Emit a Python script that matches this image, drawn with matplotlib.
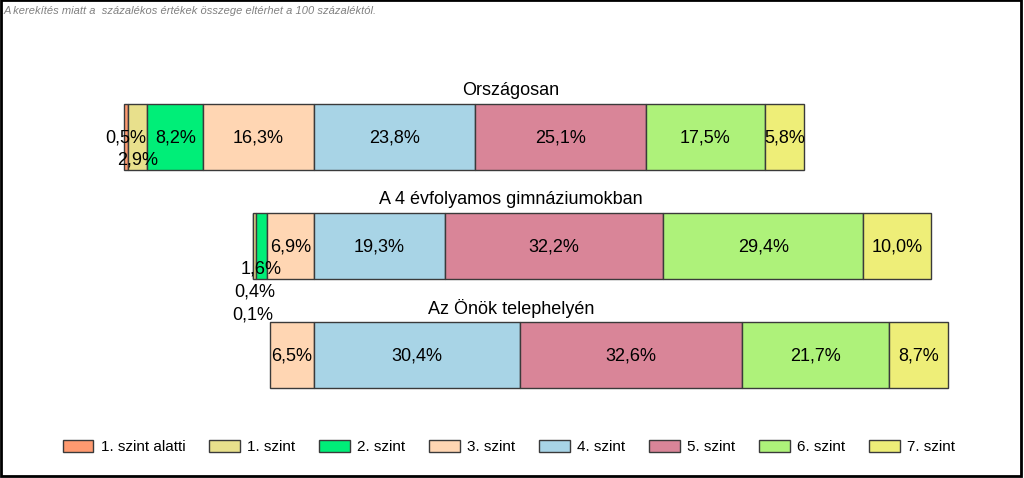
import matplotlib.pyplot as plt
from matplotlib.patches import Rectangle

plt.rcParams['font.family'] = ['Liberation Sans', 'DejaVu Sans']

# data
groups = ['Országosan', 'A 4 évfolyamos gimnáziumokban', 'Az Önök telephelyén']
levels = ['1. szint alatti', '1. szint', '2. szint', '3. szint',
          '4. szint', '5. szint', '6. szint', '7. szint']
values = [
    [0.5, 2.9, 8.2, 16.3, 23.8, 25.1, 17.5, 5.8],
    [0.1, 0.4, 1.6, 6.9, 19.3, 32.2, 29.4, 10.0],
    [0.0, 0.0, 0.0, 6.5, 30.4, 32.6, 21.7, 8.7],
]
colors = ['#ff9a70', '#e8e08c', '#00ee78', '#ffd6b3',
          '#a8d4e6', '#d98598', '#aef27a', '#eeee78']
note = 'A kerekítés miatt a  százalékos értékek összege eltérhet a 100 százaléktól.'

fig = plt.figure(figsize=(10.24, 4.78), dpi=100)
ax = fig.add_axes([0, 0, 1, 1])
ax.set_xlim(-46.2, 104.6)
ax.set_ylim(3.128, -1.257)
ax.axis('off')

bar_h = 0.6
lab_w = 5.8      # approx label width in data units
step = 0.21      # vertical shift for crowded labels
title_tr = ax.get_yaxis_transform()

for row, vals in enumerate(values):
    # bars aligned at the 3./4. szint boundary
    left = -sum(vals[:4])
    lefts = []
    for i, v in enumerate(vals):
        lefts.append(left)
        if v > 0:
            ax.barh(row, v, left=left, height=bar_h, color=colors[i],
                    edgecolor='#3a3a3a', linewidth=1)
        left += v
    ax.text(0.499, row - 0.43, groups[row], transform=title_tr,
            ha='center', va='center', fontsize=13)

    # place labels right to left, pushing crowded ones down
    placed = []
    for i in range(len(vals) - 1, -1, -1):
        v = vals[i]
        if v <= 0:
            continue
        c = lefts[i] + v / 2
        lvl = 0
        while any(l == lvl and abs(c - pc) < lab_w for pc, l in placed):
            lvl += 1
        placed.append((c, lvl))
        ax.text(c, row + lvl * step + 0.005, f'{v:.1f}%'.replace('.', ','),
                ha='center', va='center', fontsize=13)

handles = [Rectangle((0, 0), 1, 1, facecolor=c, edgecolor='#3a3a3a', linewidth=1)
           for c in colors]
fig.legend(handles, levels, loc='center', bbox_to_anchor=(0.497, 0.065), ncol=8,
           frameon=False, fontsize=11, handlelength=2.0, handleheight=0.85,
           handletextpad=0.5, columnspacing=1.55)

fig.text(0.003, 0.978, note, ha='left', va='center', fontsize=8,
         style='italic', color='#808080')

fig.patches.append(Rectangle((1 / 1024, 2 / 478), 1020 / 1024, 476 / 478,
                             transform=fig.transFigure, fill=False,
                             edgecolor='black', linewidth=2))

fig.savefig('out.png', dpi=100)
